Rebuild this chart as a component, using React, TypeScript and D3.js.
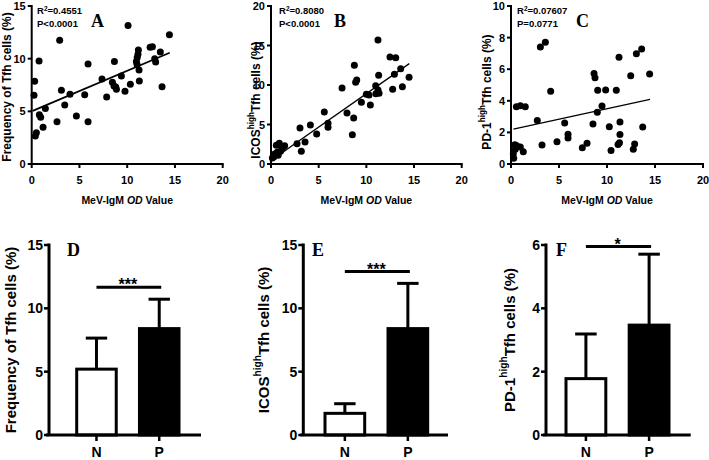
import React from "react";
import * as d3 from "d3";

// ---------- DATA ----------
const odTicks = [0, 5, 10, 15, 20];

const scatterA_x = [10.09, 14.42, 2.93, 12.64, 12.4, 11.17, 11.13, 13.47, 10.96, 11.03, 12.88, 12.98, 0.77, 5.9, 8.66, 11.24, 9.39, 7.36, 8.45, 8.62, 8.87, 10.33, 11.27, 9.77, 13.65, 0.31, 3.11, 0.24, 4.01, 5.55, 7.85, 3.46, 1.43, 0.8, 0.94, 4.68, 2.65, 5.9, 1.19, 0.49, 0.38, 11.05, 8.8];
const scatterA_y = [13.16, 12.28, 11.74, 11.14, 11.08, 10.82, 10.41, 10.63, 9.72, 9.45, 10.0, 9.68, 9.78, 9.49, 9.72, 8.92, 8.35, 8.07, 7.75, 7.41, 7.09, 7.56, 7.88, 6.9, 7.34, 7.85, 6.99, 6.52, 6.61, 6.58, 6.36, 5.6, 5.28, 4.68, 4.43, 4.56, 4.02, 4.02, 3.48, 2.97, 2.66, 10.1, 7.3];

const scatterB_x = [11.22, 12.48, 13.08, 8.74, 11.29, 13.6, 12.94, 14.48, 8.99, 8.88, 7.45, 10.98, 11.22, 11.33, 11.0, 12.76, 13.78, 10.0, 10.28, 9.48, 10.42, 7.97, 5.59, 8.67, 5.98, 5.98, 8.53, 4.13, 3.04, 4.79, 3.57, 2.73, 3.18, 0.87, 0.56, 1.43, 1.19, 1.0, 0.38, 0.31, 0.14, 0.66, 0.75];
const scatterB_y = [15.7, 13.54, 13.46, 12.49, 11.22, 12.07, 11.35, 10.97, 10.63, 10.34, 9.62, 9.92, 9.37, 8.95, 8.9, 9.45, 9.79, 8.82, 8.73, 7.81, 7.47, 6.46, 6.58, 5.82, 5.15, 4.64, 3.71, 4.94, 4.56, 3.8, 2.78, 2.57, 1.6, 2.62, 2.36, 2.32, 1.98, 1.6, 1.27, 0.93, 0.76, 1.48, 1.1];

const scatterC_x = [3.58, 3.06, 13.61, 13.06, 11.25, 14.44, 12.47, 8.65, 8.75, 4.13, 9.03, 9.86, 10.97, 9.48, 8.99, 0.56, 0.97, 1.49, 2.74, 5.59, 8.54, 10.24, 11.35, 13.72, 5.94, 5.94, 11.35, 4.79, 7.92, 7.43, 3.23, 11.15, 11.3, 10.42, 12.88, 12.74, 0.59, 0.97, 1.28, 0.45, 0.24, 0.28, 0.4];
const scatterC_y = [7.7, 7.41, 7.28, 6.98, 6.75, 5.7, 5.59, 5.72, 5.46, 4.6, 4.66, 4.68, 4.66, 3.67, 3.27, 3.63, 3.69, 3.63, 2.76, 2.59, 2.53, 2.36, 2.66, 2.34, 1.88, 1.65, 1.86, 1.41, 1.31, 1.03, 1.2, 1.24, 1.35, 0.86, 1.27, 0.93, 1.16, 1.08, 0.78, 0.93, 0.65, 0.36, 1.22];

// regression fits: [intercept, slope, xStart, xEnd]
const fitA = [5.0, 0.385, 0.1, 14.45];
const fitB = [0.45, 0.845, 0.15, 14.5];
const fitC = [2.18, 0.132, 0.25, 14.48];

const statsA = ["0.4551", "P<0.0001"];
const statsB = ["0.8080", "P<0.0001"];
const statsC = ["0.07607", "P=0.0771"];

const groups = ["N", "P"];
const barD_mean = [5.2, 8.4];
const barD_sd = [2.45, 2.32];
const barE_mean = [1.71, 8.4];
const barE_sd = [0.76, 3.57];
const barF_mean = [1.78, 3.47];
const barF_sd = [1.41, 2.24];
const sigD = [11.66, "***"];
const sigE = [12.9, "***"];
const sigF = [5.95, "*"];

const ticks15 = [0, 5, 10, 15];
const ticks20 = [0, 5, 10, 15, 20];
const ticks10 = [0, 2, 4, 6, 8, 10];
const ticks6 = [0, 2, 4, 6];

const SANS = "'Liberation Sans', Arial, sans-serif";
const SERIF = "'Liberation Serif', 'Times New Roman', serif";

type YLabel = { main: string; sup?: string; rest?: string };

function YLabelText({ x, y, size, label }: { x: number; y: number; size: number; label: YLabel }) {
  return (
    <text
      transform={`translate(${x},${y}) rotate(-90)`}
      textAnchor="middle"
      dominantBaseline="central"
      fontFamily={SANS}
      fontWeight="bold"
      fontSize={size}
    >
      {label.main}
      {label.sup ? (
        <>
          <tspan dy={-size * 0.4} fontSize={size * 0.68}>{label.sup}</tspan>
          <tspan dy={size * 0.4}>{label.rest}</tspan>
        </>
      ) : null}
    </text>
  );
}

function Scatter(props: {
  x0: number; x1: number; yMax: number; yTicks: number[];
  xs: number[]; ys: number[]; fit: number[]; stats: string[];
  letter: string; letterX: number; label: YLabel; labelX: number; labelY: number; statX: number;
  lineW: number;
}) {
  const { x0, x1, yMax, yTicks, xs, ys, fit, stats, letter, letterX, label, labelX, labelY, statX, lineW } = props;
  const x = d3.scaleLinear().domain([0, 20]).range([x0, x1]);
  const y = d3.scaleLinear().domain([0, yMax]).range([164, 6]);
  const line = d3.line<number>().x((d) => x(d)).y((d) => y(fit[0] + fit[1] * d));
  return (
    <g>
      <line x1={x0} x2={x1 + 1} y1={y(0)} y2={y(0)} stroke="#000" strokeWidth={2} />
      <line x1={x0} x2={x0} y1={y(0) + 1} y2={y(yMax) - 1} stroke="#000" strokeWidth={2} />
      {odTicks.map((t) => (
        <g key={"xt" + t}>
          <line x1={x(t)} x2={x(t)} y1={y(0)} y2={y(0) + 4} stroke="#000" strokeWidth={2} />
          <text x={x(t)} y={184} textAnchor="middle" fontFamily={SANS} fontWeight="bold" fontSize={11}>{t}</text>
        </g>
      ))}
      {yTicks.map((t) => (
        <g key={"yt" + t}>
          <line x1={x0 - 4} x2={x0} y1={y(t)} y2={y(t)} stroke="#000" strokeWidth={2} />
          <text x={x0 - 6} y={y(t)} textAnchor="end" dominantBaseline="central" fontFamily={SANS} fontWeight="bold" fontSize={11}>{t}</text>
        </g>
      ))}
      <text x={(x0 + x1) / 2} y={204} textAnchor="middle" fontFamily={SANS} fontWeight="bold" fontSize={10.5}>
        MeV-IgM <tspan fontStyle="italic">OD</tspan> Value
      </text>
      <YLabelText x={labelX} y={labelY} size={12} label={label} />
      {xs.map((d, i) => (
        <circle key={i} cx={x(d)} cy={y(ys[i])} r={3.5} fill="#000" />
      ))}
      <path d={line([fit[2], fit[3]]) || ""} stroke="#000" strokeWidth={lineW} fill="none" />
      <text x={statX} y={14} fontFamily={SANS} fontWeight="bold" fontSize={9.5}>
        R<tspan dy={-3.5} fontSize={6.5}>2</tspan><tspan dy={3.5}>={stats[0]}</tspan>
      </text>
      <text x={statX} y={27} fontFamily={SANS} fontWeight="bold" fontSize={9.5}>{stats[1]}</text>
      <text x={letterX} y={27} fontFamily={SERIF} fontWeight="bold" fontSize={18}>{letter}</text>
    </g>
  );
}

function BarPanel(props: {
  axisX: number; axisEnd: number; bandStart: number; bandEnd: number; yMax: number; yTicks: number[];
  means: number[]; sds: number[]; sig: (number | string)[];
  letter: string; letterX: number; label: YLabel; labelX: number;
}) {
  const { axisX, axisEnd, bandStart, bandEnd, yMax, yTicks, means, sds, sig, letter, letterX, label, labelX } = props;
  const y = d3.scaleLinear().domain([0, yMax]).range([435, 245]);
  const xb = d3.scaleBand().domain(groups).range([bandStart, bandEnd]).paddingInner(0.37).paddingOuter(0);
  const bw = xb.bandwidth();
  const cx = (g: string) => (xb(g) as number) + bw / 2;
  const sigY = y(sig[0] as number);
  return (
    <g>
      {groups.map((g, i) => (
        <g key={g}>
          <line x1={cx(g)} x2={cx(g)} y1={y(means[i])} y2={y(means[i] + sds[i])} stroke="#000" strokeWidth={3} />
          <line x1={cx(g) - bw * 0.27} x2={cx(g) + bw * 0.27} y1={y(means[i] + sds[i])} y2={y(means[i] + sds[i])} stroke="#000" strokeWidth={3} />
          <rect x={xb(g)} y={y(means[i])} width={bw} height={y(0) - y(means[i])} fill={i === 0 ? "#fff" : "#000"} stroke="#000" strokeWidth={3} />
          <line x1={cx(g)} x2={cx(g)} y1={y(0)} y2={y(0) + 6} stroke="#000" strokeWidth={2.5} />
          <text x={cx(g)} y={457} textAnchor="middle" fontFamily={SANS} fontWeight="bold" fontSize={14}>{g}</text>
        </g>
      ))}
      <line x1={axisX - 3} x2={axisEnd} y1={y(0)} y2={y(0)} stroke="#000" strokeWidth={3} />
      <line x1={axisX} x2={axisX} y1={y(0)} y2={y(yMax) - 1.5} stroke="#000" strokeWidth={3} />
      {yTicks.map((t) => (
        <g key={"yt" + t}>
          <line x1={axisX - 5} x2={axisX} y1={y(t)} y2={y(t)} stroke="#000" strokeWidth={2.5} />
          <text x={axisX - 6} y={y(t)} textAnchor="end" dominantBaseline="central" fontFamily={SANS} fontWeight="bold" fontSize={14}>{t}</text>
        </g>
      ))}
      <line x1={cx(groups[0])} x2={cx(groups[1]) + 2} y1={sigY} y2={sigY} stroke="#000" strokeWidth={3} />
      <text x={(cx(groups[0]) + cx(groups[1])) / 2} y={sigY + 3} textAnchor="middle" fontFamily={SANS} fontWeight="bold" fontSize={16}>{sig[1] as string}</text>
      <YLabelText x={labelX} y={340} size={15} label={label} />
      <text x={letterX} y={256} fontFamily={SERIF} fontWeight="bold" fontSize={18}>{letter}</text>
    </g>
  );
}

export default function App() {
  return (
    <svg width={709} height={460} style={{ position: "absolute", left: 0, top: 0, background: "#fff" }}>
      <rect width={709} height={460} fill="#fff" />
      <Scatter x0={31.7} x1={222.7} yMax={15} yTicks={ticks15} xs={scatterA_x} ys={scatterA_y} fit={fitA} stats={statsA}
        letter="A" letterX={91} label={{ main: "Frequency of Tfh cells (%)" }} labelX={7} labelY={87} statX={37} lineW={1.8} />
      <Scatter x0={271} x1={461.7} yMax={20} yTicks={ticks20} xs={scatterB_x} ys={scatterB_y} fit={fitB} stats={statsB}
        letter="B" letterX={334} label={{ main: "ICOS", sup: "high", rest: "Tfh cells (%)" }} labelX={256} labelY={100} statX={279} lineW={1.3} />
      <Scatter x0={511} x1={703} yMax={10} yTicks={ticks10} xs={scatterC_x} ys={scatterC_y} fit={fitC} stats={statsC}
        letter="C" letterX={576} label={{ main: "PD-1", sup: "high", rest: "Tfh cells (%)" }} labelX={487} labelY={92} statX={517} lineW={1.3} />
      <BarPanel axisX={49} axisEnd={201} bandStart={76.7} bandEnd={179} yMax={15} yTicks={ticks15}
        means={barD_mean} sds={barD_sd} sig={sigD} letter="D" letterX={67} label={{ main: "Frequency of Tfh cells (%)" }} labelX={10} />
      <BarPanel axisX={303.3} axisEnd={448} bandStart={325} bandEnd={427.7} yMax={15} yTicks={ticks15}
        means={barE_mean} sds={barE_sd} sig={sigE} letter="E" letterX={312} label={{ main: "ICOS", sup: "high", rest: "Tfh cells (%)" }} labelX={263} />
      <BarPanel axisX={546} axisEnd={690.7} bandStart={566} bandEnd={669} yMax={6} yTicks={ticks6}
        means={barF_mean} sds={barF_sd} sig={sigF} letter="F" letterX={556} label={{ main: "PD-1", sup: "high", rest: "Tfh cells (%)" }} labelX={509} />
    </svg>
  );
}
